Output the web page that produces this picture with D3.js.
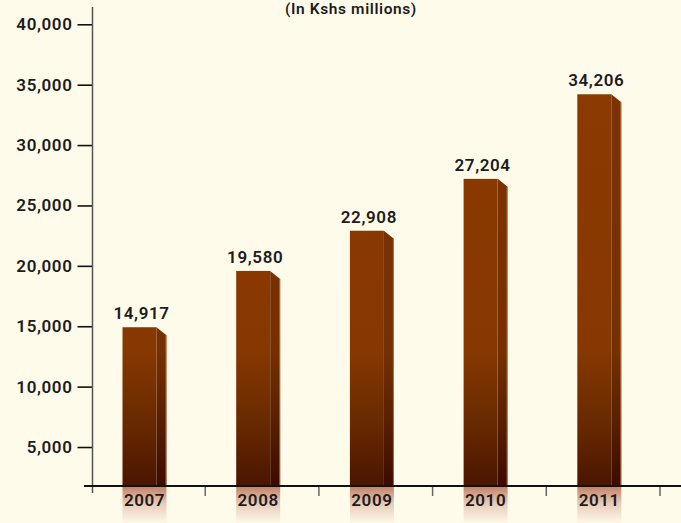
<!DOCTYPE html>
<html>
<head>
<meta charset="utf-8">
<script src="https://cdn.jsdelivr.net/npm/d3@7/dist/d3.min.js"></script>
<style>
  html, body { margin: 0; padding: 0; background: #fffbea; }
  svg { display: block; font-family: Roboto, "DejaVu Sans", sans-serif; }
  svg text { letter-spacing: 0.6px; }
</style>
</head>
<body>
<svg id="chart" width="681" height="523"></svg>
<script>
// Annual values, Kshs millions
const years = ["2007", "2008", "2009", "2010", "2011"];
const values = [14917, 19580, 22908, 27204, 34206];
const valueLabels = ["14,917", "19,580", "22,908", "27,204", "34,206"];
const yTickValues = [5000, 10000, 15000, 20000, 25000, 30000, 35000, 40000];
const titleText = "(In Kshs millions)";

const svg = d3.select("#chart");
const W = 681, H = 523;
const FONT_SIZE = 17, FONT_WEIGHT = 600, INK = "#1c1c1c";

svg.append("rect").attr("width", W).attr("height", H).attr("fill", "#fffbea");

const baseY = 486;        // x-axis line
const axisX = 92.5;       // y-axis line

const y = d3.scaleLinear().domain([0, 40000]).range([507.4, 24.3]);
const x = d3.scaleBand().domain(years).range([91.5, 660]).padding(0);

const frontW = 34, sideW = 10, chamfer = 8, barOffset = 31;

const defs = svg.append("defs");
function vGrad(id, stops) {
  const g = defs.append("linearGradient").attr("id", id)
    .attr("gradientUnits", "userSpaceOnUse")
    .attr("x1", 0).attr("x2", 0).attr("y1", 0).attr("y2", baseY);
  stops.forEach(s => g.append("stop").attr("offset", s[0]).attr("stop-color", s[1]));
}
vGrad("frontGrad", [[0, "#8c3b00"], [0.72, "#873800"], [0.86, "#6a2b00"], [1, "#4a1500"]]);
vGrad("sideGrad", [[0, "#7e3300"], [0.72, "#763000"], [0.86, "#5a2000"], [1, "#3c0a00"]]);

const lab = defs.append("linearGradient").attr("id", "labelGrad")
  .attr("x1", 0).attr("x2", 0).attr("y1", 0).attr("y2", 1);
lab.append("stop").attr("offset", 0).attr("stop-color", "#c48468");
lab.append("stop").attr("offset", 0.45).attr("stop-color", "#e8cbb9");
lab.append("stop").attr("offset", 1).attr("stop-color", "#fffbea");

// title, sitting against the top edge
svg.append("text").attr("x", 351).attr("y", 14)
  .attr("text-anchor", "middle").attr("font-size", 15.5).attr("font-weight", FONT_WEIGHT)
  .attr("fill", INK).text(titleText);

// year label backgrounds
const bars = svg.selectAll("g.bar").data(years).join("g").attr("class", "bar");
bars.append("rect")
  .attr("x", d => x(d) + barOffset)
  .attr("y", baseY + 1)
  .attr("width", frontW + sideW)
  .attr("height", H - baseY)
  .attr("fill", "url(#labelGrad)");

// front faces
bars.append("rect")
  .attr("x", d => x(d) + barOffset)
  .attr("y", (d, i) => y(values[i]))
  .attr("width", frontW)
  .attr("height", (d, i) => baseY - y(values[i]))
  .attr("fill", "url(#frontGrad)");

// side faces with chamfered top
bars.append("path")
  .attr("d", (d, i) => {
    const l = x(d) + barOffset + frontW, t = y(values[i]);
    return `M${l},${t} L${l + sideW},${t + chamfer} L${l + sideW},${baseY} L${l},${baseY} Z`;
  })
  .attr("fill", "url(#sideGrad)");

// light right edge of each bar
bars.append("line")
  .attr("x1", d => x(d) + barOffset + frontW + sideW - 0.5)
  .attr("x2", d => x(d) + barOffset + frontW + sideW - 0.5)
  .attr("y1", (d, i) => y(values[i]) + chamfer)
  .attr("y2", baseY)
  .attr("stroke", "#c98a60").attr("stroke-width", 1).attr("opacity", 0.7);

// value labels
bars.append("text")
  .attr("x", d => x(d) + barOffset + 19)
  .attr("y", (d, i) => y(values[i]) - 8)
  .attr("text-anchor", "middle").attr("font-size", FONT_SIZE).attr("font-weight", FONT_WEIGHT)
  .attr("fill", INK)
  .text((d, i) => valueLabels[i]);

// year labels
bars.append("text")
  .attr("x", d => x(d) + barOffset + (frontW + sideW) / 2)
  .attr("y", 505.5)
  .attr("text-anchor", "middle").attr("font-size", FONT_SIZE).attr("font-weight", FONT_WEIGHT)
  .attr("fill", INK)
  .text(d => d);

// y axis
const yAxis = d3.axisLeft(y).tickValues(yTickValues)
  .tickFormat(d3.format(",")).tickSize(15).tickPadding(5);
const gy = svg.append("g").attr("transform", `translate(${axisX},0)`).call(yAxis);
gy.select(".domain").remove();
gy.selectAll(".tick line").attr("stroke", "#111").attr("stroke-width", 1.6);
gy.selectAll(".tick text").attr("font-size", FONT_SIZE).attr("font-weight", FONT_WEIGHT)
  .attr("fill", INK).attr("font-family", "Roboto, 'DejaVu Sans', sans-serif");
svg.append("line").attr("x1", axisX).attr("x2", axisX).attr("y1", 7).attr("y2", 493)
  .attr("stroke", "#555").attr("stroke-width", 1.5);

// x axis: baseline and ticks at category boundaries
svg.append("line").attr("x1", 84).attr("x2", W).attr("y1", baseY).attr("y2", baseY)
  .attr("stroke", "#111").attr("stroke-width", 2);
const boundaries = years.slice(1).map(d => x(d)).concat([x(years[years.length - 1]) + x.bandwidth()]);
svg.selectAll("line.xtick").data(boundaries).join("line").attr("class", "xtick")
  .attr("x1", d => d).attr("x2", d => d).attr("y1", baseY + 1).attr("y2", baseY + 10)
  .attr("stroke", "#666").attr("stroke-width", 1.5);
</script>
</body>
</html>
